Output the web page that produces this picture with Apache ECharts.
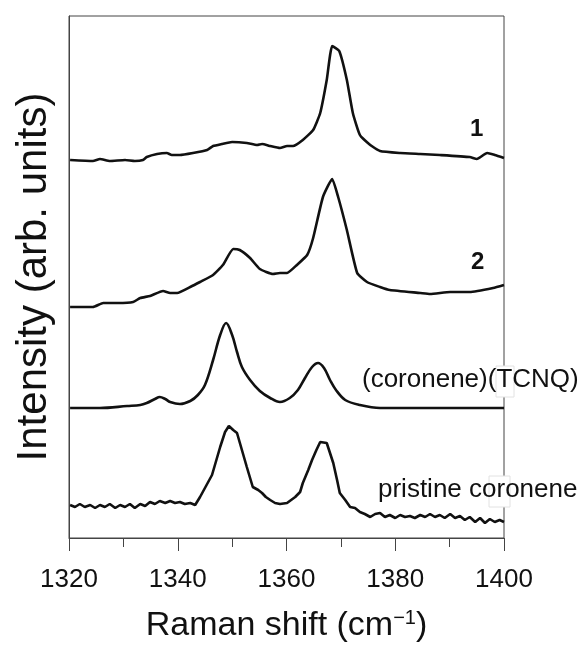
<!DOCTYPE html>
<html>
<head>
<meta charset="utf-8">
<script src="https://cdn.jsdelivr.net/npm/echarts@6/dist/echarts.min.js"></script>
<style>
  html, body { margin: 0; padding: 0; background: #fff; }
  #chart { width: 582px; height: 646px; }
</style>
</head>
<body>
<div id="chart"></div>
<script>
// Raman shift (cm-1) and offset intensities (arb. units)
var shift1 = [1320.2, 1324.4, 1325.7, 1327.5, 1330.3, 1332.1, 1333.6, 1334.3, 1336.2, 1338.0, 1338.9, 1340.4, 1342.8, 1345.4, 1346.5, 1348.1, 1350.0, 1352.7, 1354.6, 1355.5, 1357.0, 1358.8, 1360.1, 1361.2, 1363.0, 1364.9, 1366.2, 1367.4, 1368.4, 1369.7, 1371.1, 1372.2, 1373.5, 1375.4, 1377.2, 1380.9, 1384.6, 1388.2, 1393.7, 1395.0, 1396.9, 1398.3, 1400];
var int1   = [378, 377, 379, 377, 378, 377, 378, 381, 384, 385, 383, 383, 385, 388, 392, 394, 396, 395, 393, 394, 392, 390, 392, 392, 398, 408, 425, 458, 492, 487, 458, 425, 403, 393, 387, 385, 384, 383, 381, 379, 385, 383, 380];

var shift2 = [1320.2, 1324.4, 1326.3, 1329.0, 1331.8, 1333.1, 1334.9, 1337.3, 1338.6, 1339.9, 1342.3, 1344.1, 1346.5, 1348.3, 1350.2, 1351.4, 1353.3, 1355.1, 1357.5, 1358.8, 1360.1, 1361.9, 1363.8, 1364.9, 1366.7, 1368.4, 1369.5, 1371.1, 1373.0, 1374.8, 1377.2, 1379.0, 1384.6, 1386.4, 1390.1, 1393.7, 1398.0, 1400];
var int2   = [231, 231, 235, 235, 236, 240, 242, 247, 245, 245, 251, 256, 263, 273, 289, 288, 280, 269, 264, 265, 265, 273, 283, 300, 341, 359, 341, 308, 265, 256, 251, 248, 245, 244, 246, 246, 250, 253];

var shift3 = [1320.2, 1325.7, 1330.7, 1333.1, 1334.3, 1335.8, 1336.7, 1337.7, 1338.6, 1340.4, 1342.3, 1343.7, 1345.0, 1346.5, 1347.8, 1348.9, 1350.0, 1350.9, 1351.8, 1353.3, 1355.1, 1357.0, 1358.8, 1360.6, 1362.1, 1363.4, 1364.7, 1365.8, 1366.9, 1368.0, 1369.1, 1370.8, 1373.5, 1377.2, 1384.6, 1400];
var int3   = [130, 130, 132, 133, 135, 139, 141, 139, 136, 134, 137, 143, 153, 178, 203, 215, 203, 186, 171, 158, 147, 140, 136, 140, 148, 160, 171, 175, 170, 158, 148, 138, 133, 130, 130, 130];

var shift4 = [1320.2, 1321.1, 1322.0, 1322.9, 1323.9, 1324.8, 1325.7, 1326.6, 1327.5, 1328.5, 1329.4, 1330.3, 1331.2, 1332.1, 1333.1, 1334.0, 1334.9, 1335.8, 1336.7, 1337.7, 1338.6, 1339.5, 1340.4, 1341.3, 1342.3, 1343.2, 1344.1, 1345.0, 1346.3, 1347.8, 1348.7, 1349.4, 1350.2, 1350.9, 1351.8, 1352.7, 1353.8, 1354.8, 1355.5, 1356.2, 1357.0, 1357.9, 1358.8, 1360.1, 1361.6, 1362.5, 1363.0, 1364.0, 1364.7, 1365.5, 1366.2, 1367.4, 1368.6, 1369.3, 1369.8, 1370.8, 1371.7, 1372.6, 1373.5, 1374.4, 1375.4, 1376.3, 1377.2, 1378.1, 1379.0, 1380.0, 1380.9, 1381.8, 1382.7, 1383.6, 1384.6, 1385.5, 1386.4, 1387.3, 1388.2, 1389.1, 1390.1, 1391.0, 1391.9, 1392.8, 1393.7, 1394.7, 1395.6, 1396.5, 1397.4, 1398.3, 1399.2, 1400];
var int4   = [33, 31, 34, 31, 33, 30, 33, 31, 34, 30, 33, 31, 34, 30, 34, 32, 36, 34, 37, 35, 37, 35, 36, 34, 35, 33, 41, 50, 63, 91, 106, 112, 108, 105, 88, 71, 51, 48, 45, 41, 38, 35, 34, 35, 41, 46, 55, 68, 78, 88, 96, 95, 75, 58, 45, 38, 31, 30, 26, 24, 21, 24, 25, 21, 23, 20, 23, 21, 22, 20, 23, 21, 24, 21, 23, 20, 24, 20, 22, 18, 21, 16, 20, 15, 19, 16, 18, 16];

var xTicks = [1320, 1340, 1360, 1380, 1400];

function pairs(xs, ys) {
    return xs.map(function (x, i) { return [x, ys[i]]; });
}

var font = '"Liberation Sans", Arial, sans-serif';
var lineStyle = { color: '#111', width: 2.6 };

var chart = echarts.init(document.getElementById('chart'));

// trace 3 is a calculated-looking smooth curve, the rest are measured
var traces = [
    { data: pairs(shift1, int1), smooth: 0.15 },
    { data: pairs(shift2, int2), smooth: 0.15 },
    { data: pairs(shift3, int3), smooth: 0.35 },
    { data: pairs(shift4, int4), smooth: false }
];

chart.setOption({
    animation: false,
    backgroundColor: '#fff',
    grid: {
        left: 69, right: 78, top: 16, bottom: 108,
        show: true, borderColor: '#444', borderWidth: 1,
        outerBoundsMode: 'none'
    },
    xAxis: {
        type: 'value',
        min: xTicks[0], max: xTicks[xTicks.length - 1], interval: 20,
        axisLine: { show: true, lineStyle: { color: '#444', width: 1 } },
        axisTick: { show: true, inside: false, length: 13, lineStyle: { color: '#444' } },
        minorTick: { show: true, splitNumber: 2, length: 9, lineStyle: { color: '#444' } },
        splitLine: { show: false },
        axisLabel: {
            fontSize: 26, color: '#111', fontFamily: font, margin: 29,
            formatter: function (v) { return String(v); }
        },
        name: '{a|Raman shift (cm}{s|−1}{a|)}',
        nameLocation: 'middle',
        nameGap: 70,
        nameTextStyle: {
            rich: {
                a: { fontSize: 34, color: '#111', fontFamily: font },
                s: { fontSize: 20, color: '#111', fontFamily: font, verticalAlign: 'top', padding: [0, 0, 16, 0] }
            }
        }
    },
    yAxis: {
        type: 'value',
        min: 0, max: 522,
        axisLine: { show: true, lineStyle: { color: '#444', width: 1 } },
        axisTick: { show: false },
        axisLabel: { show: false },
        splitLine: { show: false },
        name: 'Intensity (arb. units)',
        nameLocation: 'middle',
        nameGap: 14,
        nameTextStyle: { fontSize: 42, color: '#111', fontFamily: font }
    },
    series: traces.map(function (t) {
        return {
            type: 'line', data: t.data, showSymbol: false, smooth: t.smooth,
            lineStyle: lineStyle, z: 3
        };
    }),
    graphic: [
        { type: 'text', left: 470, top: 117, z: 10,
          style: { text: '1', fontSize: 24, fontWeight: 'bold', fill: '#111', fontFamily: font } },
        { type: 'text', left: 471, top: 250, z: 10,
          style: { text: '2', fontSize: 24, fontWeight: 'bold', fill: '#111', fontFamily: font } },
        { type: 'rect', shape: { x: 496, y: 366, width: 18, height: 31 }, z: 9,
          style: { fill: '#fff', stroke: '#e2e2e2', lineWidth: 1 } },
        { type: 'rect', shape: { x: 489, y: 476, width: 21, height: 31 }, z: 9,
          style: { fill: '#fff', stroke: '#e2e2e2', lineWidth: 1 } },
        { type: 'text', left: 362, top: 367, z: 10,
          style: { text: '(coronene)(TCNQ)', fontSize: 26, fill: '#111', fontFamily: font } },
        { type: 'text', left: 378, top: 477, z: 10,
          style: { text: 'pristine coronene', fontSize: 26, fill: '#111', fontFamily: font } }
    ]
});
</script>
</body>
</html>
